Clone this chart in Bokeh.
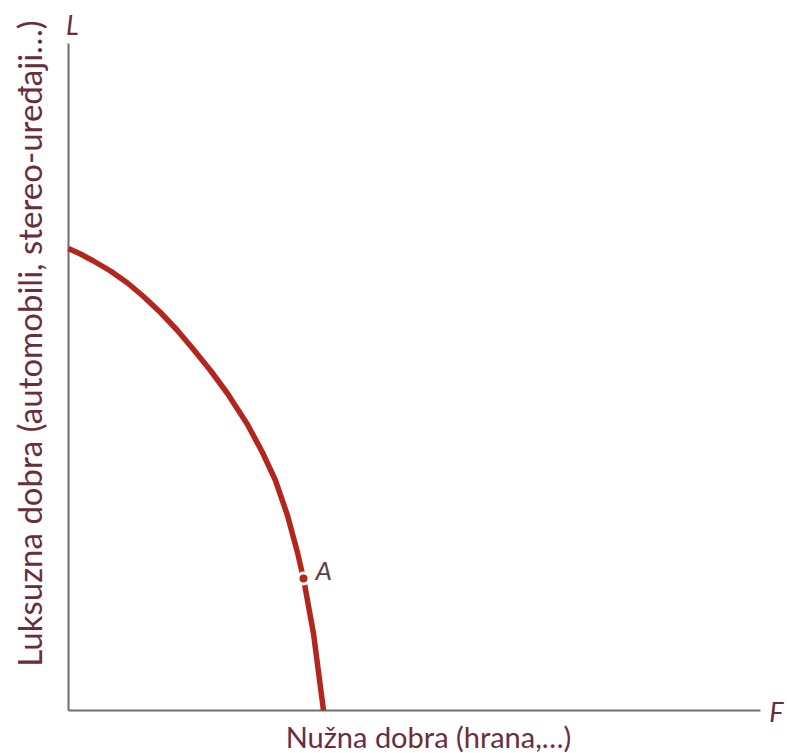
from bokeh.plotting import figure
from bokeh.models import Range1d, Label
from bokeh.embed import file_html
from bokeh.resources import INLINE
import math

# Production possibility frontier (data units; origin at axes corner)
ppf_x = [0, 1.2, 2.5, 4.2, 5.9, 7.5, 9.2, 10.9, 12.5, 14.2, 15.9, 17.9, 19.4, 20.7, 21.9, 22.9, 23.5, 24.5, 25.5]
ppf_y = [46.2, 45.65, 44.95, 43.95, 42.75, 41.4, 39.8, 38.0, 36.1, 34.0, 31.7, 28.6, 25.8, 23.0, 19.5, 15.8, 13.2, 7.7, 0.0]
point_x = [23.5]
point_y = [13.2]
point_label = "A"
x_axis_end = 69.2
y_axis_end = 66.7
x_title = "Nužna dobra (hrana,…)"
y_title = "Luksuzna dobra (automobili, stereo-uređaji…)"
x_name = "F"
y_name = "L"

TEXT = "#6b2d3a"
CURVE = "#b3261e"
AXIS = "#6e6e6e"
FONT = "Lato"

p = figure(width=787, height=753, output_backend="svg", toolbar_location=None,
           x_range=Range1d(-6.8, 71.9), y_range=Range1d(-4.3, 71.0),
           min_border=0, outline_line_color=None, background_fill_color="white")
p.axis.visible = False
p.grid.visible = False

# axes
p.segment(x0=[0, 0], y0=[0, 0], x1=[x_axis_end, 0], y1=[0, y_axis_end],
          line_color=AXIS, line_width=2)

p.line(ppf_x, ppf_y, line_color=CURVE, line_width=5.5, line_join="round", line_cap="butt")
p.scatter(point_x, point_y, size=11, fill_color=CURVE, line_color="white", line_width=3)

p.add_layout(Label(x=24.7, y=14.1, text=point_label,
                   text_font=FONT, text_font_style="italic", text_font_size="26px",
                   text_color="#5a4048", text_align="left", text_baseline="middle"))
p.add_layout(Label(x=0.4, y=68.6, text=y_name, text_font=FONT, text_font_style="italic",
                   text_font_size="27px", text_color=TEXT, text_align="center",
                   text_baseline="middle"))
p.add_layout(Label(x=70.8, y=-0.1, text=x_name, text_font=FONT, text_font_style="italic",
                   text_font_size="27px", text_color=TEXT, text_align="center",
                   text_baseline="middle"))
p.add_layout(Label(x=36.0, y=-2.55, text=x_title, text_font=FONT,
                   text_font_size="29px", text_color=TEXT, text_align="center",
                   text_baseline="middle"))
p.add_layout(Label(x=-4.0, y=36.7, text=y_title, text_font=FONT, angle=math.pi / 2,
                   text_font_size="33px", text_color=TEXT, text_align="center",
                   text_baseline="middle"))

open("out.html", "w").write(file_html(p, INLINE))
